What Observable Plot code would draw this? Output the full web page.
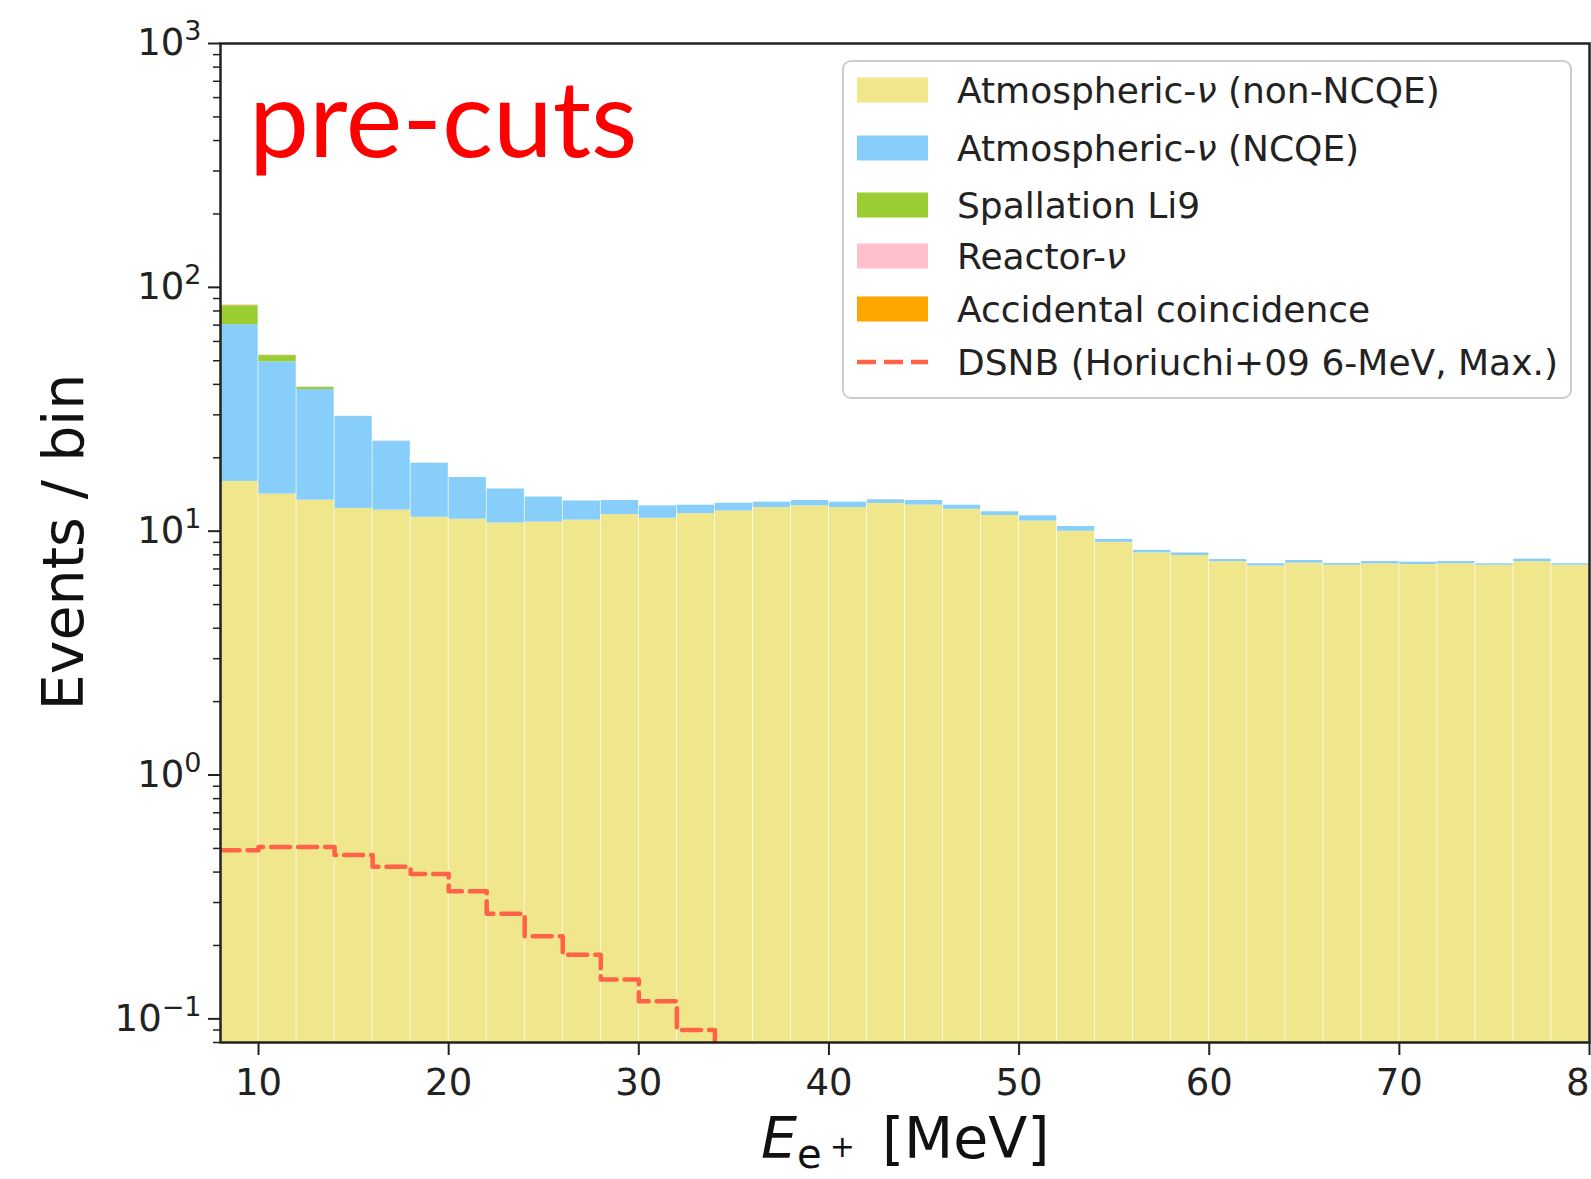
<!DOCTYPE html>
<html><head><meta charset="utf-8">
<script src="https://cdn.jsdelivr.net/npm/d3@7"></script>
<script src="https://cdn.jsdelivr.net/npm/@observablehq/plot@0.6"></script>
<style>
html,body{margin:0;padding:0;background:#fff;overflow:hidden;}
#chart{position:relative;width:1591px;height:1179px;overflow:hidden;}
</style></head><body><div id="chart"></div>
<script>
// ---- data ----
const binEdges = [8,10,12,14,16,18,20,22,24,26,28,30,32,34,36,38,40,42,44,46,48,50,52,54,56,58,60,62,64,66,68,70,72,74,76,78,80];
const atmNonNCQE = [16.0,14.2,13.4,12.4,12.2,11.4,11.2,10.8,10.9,11.1,11.7,11.3,11.8,12.1,12.5,12.7,12.5,13.0,12.8,12.3,11.6,11.0,10.0,9.0,8.15,7.95,7.5,7.2,7.4,7.25,7.35,7.3,7.35,7.25,7.5,7.25];
const atmNCQE    = [54.3,35.3,24.7,17.1,11.2,7.6,5.4,4.1,2.9,2.2,1.66,1.4,0.98,0.92,0.65,0.66,0.65,0.45,0.56,0.48,0.41,0.56,0.45,0.25,0.19,0.19,0.15,0.15,0.18,0.12,0.16,0.16,0.16,0.10,0.18,0.10];
const li9        = [13.8,3.0,0.8,0.05,0,0,0,0,0,0,0,0,0,0,0,0,0,0,0,0,0,0,0,0,0,0,0,0,0,0,0,0,0,0,0,0];
const reactor    = [0.3,0.2,0.1,0.05,0,0,0,0,0,0,0,0,0,0,0,0,0,0,0,0,0,0,0,0,0,0,0,0,0,0,0,0,0,0,0,0];
const accidental = [0.2,0.05,0,0,0,0,0,0,0,0,0,0,0,0,0,0,0,0,0,0,0,0,0,0,0,0,0,0,0,0,0,0,0,0,0,0];
const dsnb       = [0.491,0.507,0.507,0.470,0.421,0.393,0.334,0.270,0.218,0.183,0.145,0.118,0.090,0.066];
const seriesNames = ["Atmospheric-ν (non-NCQE)","Atmospheric-ν (NCQE)","Spallation Li9","Reactor-ν","Accidental coincidence"];
const seriesColors = ["#F0E68C","#87CEFA","#9ACD32","#FFC0CB","#FFA500"];
const dsnbName = "DSNB (Horiuchi+09 6-MeV, Max.)";
const dsnbColor = "#FF6347";
const xTicks = [10,20,30,40,50,60,70,80];
const yMajor = [0.1,1,10,100,1000];
const yExponents = ["\u22121","0","1","2","3"];

// ---- build tables ----
const seriesValues = [atmNonNCQE, atmNCQE, li9, reactor, accidental];
const rects = [];
for (let i = 0; i < binEdges.length - 1; i++) {
  let cum = 0;
  seriesValues.forEach((vals, s) => {
    const v = vals[i];
    if (!(v > 0)) return;
    const y1 = cum === 0 ? 0.01 : cum;
    cum += v;
    rects.push({x1: binEdges[i], x2: binEdges[i + 1], y1, y2: cum, series: seriesNames[s]});
  });
}
const dsnbPts = dsnb.map((v, i) => ({x: binEdges[i], y: v}));
dsnbPts.push({x: binEdges[dsnb.length], y: dsnb[dsnb.length - 1]});
const yMinor = [];
for (const dec of [0.01, 0.1, 1, 10, 100]) for (let k = 2; k <= 9; k++) {
  const t = +(k * dec).toPrecision(3);
  if (t >= 0.08 && t <= 1000) yMinor.push(t);
}

const plot = Plot.plot({
  width: 1591, height: 1179,
  marginLeft: 220, marginRight: 2, marginTop: 43, marginBottom: 137,
  x: {domain: [8, 80]},
  y: {type: "log", domain: [0.08, 1000]},
  color: {domain: seriesNames, range: seriesColors},
  style: {fontFamily: "DejaVu Sans", fontSize: "37px", color: "#222", background: "white", overflow: "hidden"},
  marks: [
    Plot.rect(rects, {x1: "x1", x2: "x2", y1: "y1", y2: "y2", fill: "series", insetLeft: 0.35, insetRight: 0.35, clip: true}),
    Plot.line(dsnbPts, {x: "x", y: "y", curve: "step-after", stroke: dsnbColor, strokeWidth: 4.5, strokeDasharray: "19,8", clip: true}),
    Plot.axisX({ticks: xTicks, tickSize: 13, tickPadding: 13, tickFormat: d => String(d), label: null, fontSize: 37, strokeWidth: 2}),
    Plot.axisY({ticks: yMajor, tickSize: 12, tickPadding: 7, tickFormat: () => "10", label: null, fontSize: 37, strokeWidth: 2}),
    Plot.axisY({ticks: yMinor, tickSize: 7, tickFormat: () => "", label: null, strokeWidth: 1.5}),
    Plot.frame({stroke: "#222", strokeWidth: 2.5})
  ]
});
document.getElementById("chart").appendChild(plot);

// ---- annotations ----
const svg = d3.select(plot);
const fam = "DejaVu Sans";

// superscript exponents on the y tick labels
svg.selectAll('g[aria-label="y-axis tick label"] text').each(function(d, i) {
  const t = d3.select(this);
  t.append("tspan").attr("font-size", 27).attr("dy", -15).text(yExponents[i]);
});

// "pre-cuts"
svg.append("text").attr("x", 249).attr("y", 157).attr("text-anchor", "start").attr("font-family", "Lato").attr("font-size", 107)
  .attr("fill", "#FF0000").text("pre-cuts");

// x label
const xl = svg.append("text").attr("x", 761).attr("y", 1158).attr("text-anchor", "start").attr("font-family", fam).attr("font-size", 57).attr("fill", "#111");
xl.append("tspan").attr("font-style", "italic").text("E");
xl.append("tspan").attr("font-size", 40).attr("dy", 10).text("e");
xl.append("tspan").attr("font-size", 30).attr("dx", 8).attr("dy", -11).text("+");
xl.append("tspan").attr("dx", 9).attr("dy", 1).text(" [MeV]");

// y label
svg.append("text").attr("transform", "translate(83,542) rotate(-90)").attr("text-anchor", "middle")
  .attr("font-family", fam).attr("font-size", 57).attr("fill", "#111").text("Events / bin");

// legend
const lg = svg.append("g");
lg.append("rect").attr("x", 843).attr("y", 61).attr("width", 728).attr("height", 337).attr("rx", 8)
  .attr("fill", "white").attr("fill-opacity", 0.8).attr("stroke", "#cccccc").attr("stroke-width", 2);
const rowY = [90, 148, 205, 256, 309, 362];
function addLabel(str, y) {
  const t = lg.append("text").attr("x", 957).attr("y", y + 13).attr("text-anchor", "start")
    .attr("font-family", fam).attr("font-size", 36).attr("fill", "#222");
  str.split(/(ν)/).forEach(part => {
    if (!part) return;
    const sp = t.append("tspan").text(part);
    if (part === "ν") sp.attr("font-style", "italic");
  });
}
seriesNames.forEach((name, i) => {
  lg.append("rect").attr("x", 857).attr("y", rowY[i] - 12.5).attr("width", 71).attr("height", 25).attr("fill", seriesColors[i]);
  addLabel(name, rowY[i]);
});
lg.append("line").attr("x1", 857).attr("x2", 928).attr("y1", rowY[5]).attr("y2", rowY[5])
  .attr("stroke", dsnbColor).attr("stroke-width", 4.5).attr("stroke-dasharray", "19,8");
addLabel(dsnbName, rowY[5]);
</script></body></html>
